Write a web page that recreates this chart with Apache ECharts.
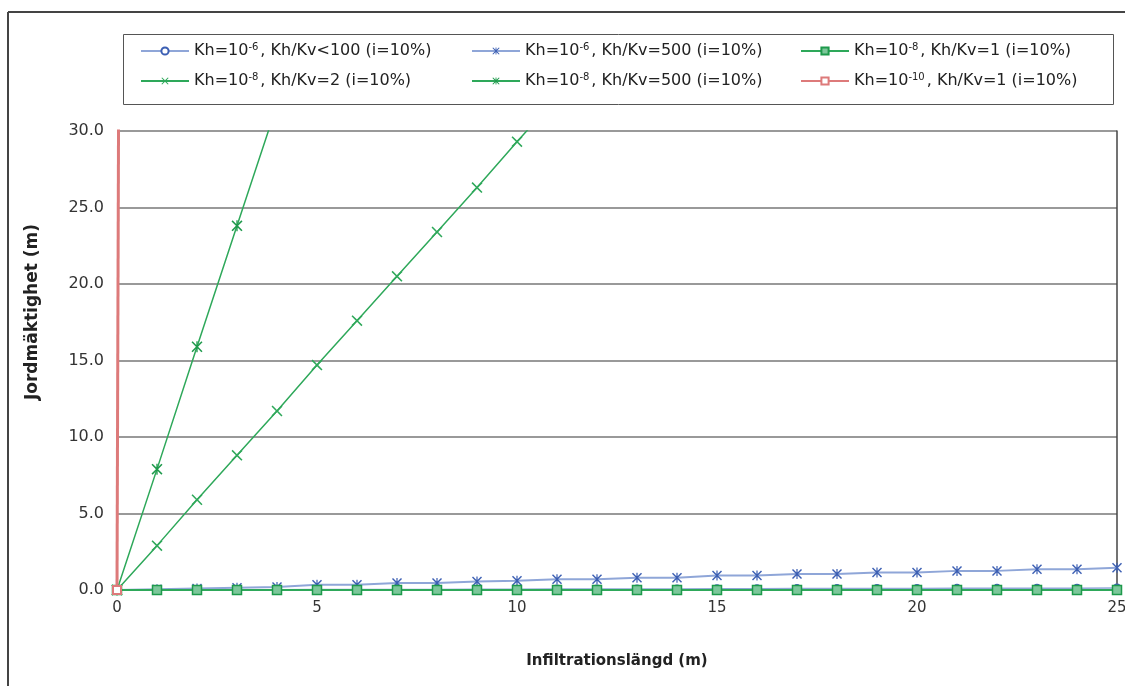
<!DOCTYPE html>
<html>
<head>
<meta charset="utf-8">
<script src="https://cdn.jsdelivr.net/npm/echarts@6/dist/echarts.min.js"></script>
<style>
  html, body { margin: 0; padding: 0; background: #fff; }
  #chart { width: 1125px; height: 686px; }
</style>
</head>
<body>
<div id="chart"></div>
<script>
// Infiltration length (m) on the x axis
const infiltrationLength = [0, 1, 2, 3, 4, 5, 6, 7, 8, 9, 10, 11, 12, 13, 14, 15, 16, 17, 18, 19, 20, 21, 22, 23, 24, 25];

// Soil thickness (m) for each case
const kh6Below100 = [0, 0.01, 0.01, 0.02, 0.02, 0.03, 0.03, 0.04, 0.04, 0.05, 0.05, 0.06, 0.06, 0.07, 0.07, 0.08, 0.08, 0.09, 0.09, 0.1, 0.1, 0.11, 0.11, 0.12, 0.12, 0.13];
const kh6Ratio500 = [0, 0.05, 0.1, 0.15, 0.2, 0.35, 0.35, 0.45, 0.45, 0.55, 0.6, 0.7, 0.7, 0.8, 0.8, 0.95, 0.95, 1.05, 1.05, 1.15, 1.15, 1.25, 1.25, 1.35, 1.35, 1.45];
const kh8Ratio1 = [0, 0, 0, 0, 0, 0, 0, 0, 0, 0, 0, 0, 0, 0, 0, 0, 0, 0, 0, 0, 0, 0, 0, 0, 0, 0];
const kh8Ratio2 = [0, 2.9, 5.9, 8.8, 11.7, 14.7, 17.6, 20.5, 23.4, 26.3, 29.3, 32.2, 35.1];
const kh8Ratio500 = [0, 7.9, 15.9, 23.8, 31.7, 39.6];
const kh10Ratio1 = [0, 790];

const yTicks = ['0.0', '5.0', '10.0', '15.0', '20.0', '25.0', '30.0'];

const seriesNames = [
  'Kh=10{s|-6}, Kh/Kv<100 (i=10%)',
  'Kh=10{s|-6}, Kh/Kv=500 (i=10%)',
  'Kh=10{s|-8}, Kh/Kv=1 (i=10%)',
  'Kh=10{s|-8}, Kh/Kv=2 (i=10%)',
  'Kh=10{s|-8}, Kh/Kv=500 (i=10%)',
  'Kh=10{s|-10}, Kh/Kv=1 (i=10%)'
];

const xTitle = 'Infiltrationslängd (m)';
const yTitle = 'Jordmäktighet (m)';

const pair = (vals) => vals.map((v, i) => [infiltrationLength[i], v]);

const crossPath = 'path://M0,1 L1,0 L5,4 L9,0 L10,1 L6,5 L10,9 L9,10 L5,6 L1,10 L0,9 L4,5 Z';
const starPath = 'path://M0,1 L1,0 L5,4 L9,0 L10,1 L6,5 L10,9 L9,10 L5,6 L1,10 L0,9 L4,5 Z M4.4,0 L5.6,0 L5.6,10 L4.4,10 Z';

const blueLine = '#8fa6d8';
const blueMark = '#3c5fb3';
const green = '#2ea85a';
const red = '#dd7a7a';
const font = 'DejaVu Sans, Liberation Sans, sans-serif';

const chart = echarts.init(document.getElementById('chart'));

const legendText = {
  fontFamily: font,
  fontSize: 16,
  color: '#222',
  lineHeight: 18,
  rich: {
    s: { fontFamily: font, fontSize: 10, color: '#222', verticalAlign: 'top', padding: [0, 2, 9, 0] }
  }
};

function legendCol(left, names) {
  return {
    orient: 'vertical',
    left: left,
    top: 37,
    itemWidth: 48,
    itemHeight: 9,
    itemGap: 12,
    data: names,
    textStyle: legendText
  };
}

chart.setOption({
  animation: false,
  backgroundColor: '#fff',
  textStyle: { fontFamily: font },
  grid: { left: 117, right: 8, top: 131, bottom: 96, containLabel: false, outerBoundsMode: 'none' },
  legend: [
    legendCol(135, [seriesNames[0], seriesNames[3]]),
    legendCol(466, [seriesNames[1], seriesNames[4]]),
    legendCol(795, [seriesNames[2], seriesNames[5]])
  ],
  graphic: [
    { type: 'line', shape: { x1: 8, y1: 12, x2: 1125, y2: 12 }, style: { stroke: '#444', lineWidth: 2 } },
    { type: 'line', shape: { x1: 8, y1: 12, x2: 8, y2: 686 }, style: { stroke: '#444', lineWidth: 2 } },
    { type: 'rect', shape: { x: 123.5, y: 34.5, width: 990, height: 70 }, style: { fill: 'none', stroke: '#555', lineWidth: 1 } },
    {
      type: 'text', x: 33, y: 312, rotation: Math.PI / 2,
      style: {
        text: yTitle, fontFamily: font, fontSize: 17, fontWeight: 'bold', fill: '#222',
        align: 'center', verticalAlign: 'middle'
      }
    }
  ],
  xAxis: {
    type: 'value',
    min: 0,
    max: 25,
    interval: 5,
    name: xTitle,
    nameLocation: 'middle',
    nameGap: 64,
    nameTextStyle: { fontFamily: font, fontSize: 15, fontWeight: 'bold', color: '#222' },
    axisLine: { show: true, lineStyle: { color: '#444', width: 1 } },
    axisTick: { show: false },
    axisLabel: { fontFamily: font, fontSize: 15, color: '#333', margin: 11 },
    splitLine: { show: false }
  },
  yAxis: [{
    type: 'value',
    min: 0,
    max: 30,
    interval: 5,
    axisLine: { show: true, lineStyle: { color: '#444', width: 1 } },
    axisTick: { show: false },
    axisLabel: {
      fontFamily: font, fontSize: 16, color: '#333', margin: 13,
      formatter: (v) => yTicks[Math.round(v / 5)]
    },
    splitLine: { show: true, lineStyle: { color: '#777', width: 1.5 } }
  }, {
    type: 'value',
    min: 0,
    max: 30,
    interval: 5,
    position: 'right',
    axisLine: { show: true, lineStyle: { color: '#444', width: 1.5 } },
    axisTick: { show: false },
    axisLabel: { show: false },
    splitLine: { show: false }
  }],
  series: [
    {
      name: seriesNames[0], type: 'line', data: pair(kh6Below100), z: 2,
      symbol: 'emptyCircle', symbolSize: 7,
      itemStyle: { color: blueMark, borderWidth: 1.2 },
      lineStyle: { color: blueLine, width: 1.5 }
    },
    {
      name: seriesNames[1], type: 'line', data: pair(kh6Ratio500), z: 3,
      symbol: starPath, symbolSize: 10,
      itemStyle: { color: blueMark },
      lineStyle: { color: blueLine, width: 2 }
    },
    {
      name: seriesNames[2], type: 'line', data: pair(kh8Ratio1), z: 4,
      symbol: 'rect', symbolSize: 9,
      itemStyle: { color: '#7cc79a', borderColor: '#1e9a4c', borderWidth: 1.5 },
      lineStyle: { color: green, width: 1.8 }
    },
    {
      name: seriesNames[3], type: 'line', data: pair(kh8Ratio2), z: 4,
      symbol: crossPath, symbolSize: 11,
      itemStyle: { color: green },
      lineStyle: { color: green, width: 1.5 }
    },
    {
      name: seriesNames[4], type: 'line', data: pair(kh8Ratio500), z: 4,
      symbol: starPath, symbolSize: 11,
      itemStyle: { color: '#1f9a4c' },
      lineStyle: { color: green, width: 1.5 }
    },
    {
      name: seriesNames[5], type: 'line', data: pair(kh10Ratio1), z: 5,
      symbol: 'emptyRect', symbolSize: 8,
      itemStyle: { color: red, borderWidth: 1.5 },
      lineStyle: { color: red, width: 3 }
    }
  ]
});
</script>
</body>
</html>
